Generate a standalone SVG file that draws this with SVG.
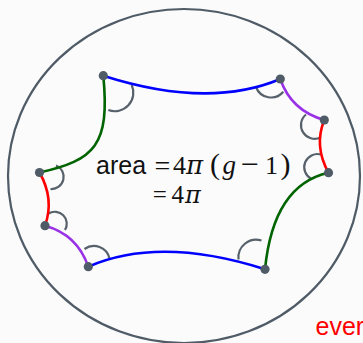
<svg xmlns="http://www.w3.org/2000/svg" width="363" height="343" viewBox="0 0 363 343">
<style>
.bg{fill:#fbfbfb}
.disk{fill:none;stroke:#4f5b66;stroke-width:2.2}
.e{fill:none;stroke-width:2.6;stroke-linecap:round}
.blue{stroke:#0000ff}
.green{stroke:#006400}
.red{stroke:#ff0000}
.purple{stroke:#9932e6}
.ang{fill:none;stroke:#56616b;stroke-width:2.2}
.v{fill:#4f5b66}
.ms{font-family:"Liberation Serif","Times New Roman",serif;fill:#111}
.pi{font-family:"DejaVu Serif","Liberation Serif",serif;font-style:italic}
.ss{font-family:"Liberation Sans",Arial,sans-serif}
</style>
<rect class="bg" x="0" y="0" width="363" height="343"/>
<ellipse id="disk" class="disk" cx="184" cy="176" rx="176" ry="167"/>
<g id="angles">
<path class="ang" d="M108.3,110 A18.5,18.5 0 0 0 131.7,85"/>
<path class="ang" d="M256,87 A16,16 0 0 0 283.3,91.7"/>
<path class="ang" d="M306,114.5 A13.7,13.7 0 0 0 320.5,137.5"/>
<path class="ang" d="M321,154.5 A13.2,13.2 0 0 0 311.5,179"/>
<path class="ang" d="M261.5,240.5 A17.8,17.8 0 0 0 238.5,259.5"/>
<path class="ang" d="M84.5,249 A16,16 0 0 1 109.5,258.5"/>
<path class="ang" d="M48.5,213.5 A12,12 0 0 1 65,230"/>
<path class="ang" d="M56,165.5 A12.2,12.2 0 0 1 50.5,189"/>
</g>
<g id="connectors">
<path class="e blue" d="M103.3,75.7 Q208.4,109.3 280.3,79"/>
<path class="e purple" d="M280.3,79 Q291,110.5 324.3,120"/>
<path class="e red" d="M324.3,120 Q313.7,146 328.5,172.7"/>
<path class="e green" d="M328.5,172.7 Q273.3,185 265,269.3"/>
<path class="e blue" d="M265,269.3 Q159.9,235.7 88.3,266.7"/>
<path class="e purple" d="M88.3,266.7 Q77.3,234.5 45,225.7"/>
<path class="e red" d="M45,225.7 Q54.6,199 39.5,172.5"/>
<path class="e green" d="M39.5,172.5 C95,160 110,145 103.3,75.7"/>
</g>
<g id="v1"><circle class="v" cx="103.3" cy="75.7" r="4.6"/></g>
<g id="v2"><circle class="v" cx="280.3" cy="79" r="4.6"/></g>
<g id="v3"><circle class="v" cx="324.3" cy="120" r="4.6"/></g>
<g id="v4"><circle class="v" cx="328.5" cy="172.7" r="4.6"/></g>
<g id="v5"><circle class="v" cx="265" cy="269.3" r="4.6"/></g>
<g id="v6"><circle class="v" cx="88.3" cy="266.7" r="4.6"/></g>
<g id="v7"><circle class="v" cx="45" cy="225.7" r="4.6"/></g>
<g id="v8"><circle class="v" cx="39.5" cy="172.5" r="4.6"/></g>
<g id="label">
<text class="ss" x="96" y="174" font-size="25" fill="#111">area</text>
<text class="ms" y="174"><tspan x="154.5" y="174.5" font-size="28">=</tspan><tspan x="173" y="174" font-size="26">4</tspan><tspan class="pi" x="186" y="174" font-size="26">π</tspan><tspan x="210" y="174" font-size="30">(</tspan><tspan x="222.5" y="174" font-size="27" font-style="italic">g</tspan><tspan x="240.5" y="175" font-size="32">−</tspan><tspan x="265" y="174" font-size="26">1</tspan><tspan x="280.5" y="174" font-size="30">)</tspan></text>
<text class="ms" y="202.5"><tspan x="152.8" y="202.5" font-size="25">=</tspan><tspan x="171.5" y="202.5" font-size="25">4</tspan><tspan class="pi" x="185" y="202.5" font-size="24">π</tspan></text>
</g>
<text class="ss" x="315.5" y="335" font-size="25" fill="#ff0000">ever</text>
</svg>
